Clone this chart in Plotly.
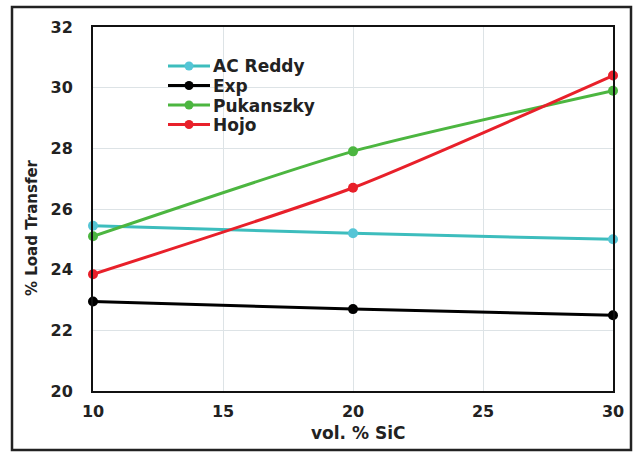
import plotly.graph_objects as go

# SiC volume fraction (vol. %)
vol_sic = [10, 20, 30]

# Load transfer (%) predicted by each model and measured
ac_reddy = [25.45, 25.2, 25.0]
exp_vals = [22.95, 22.7, 22.5]
pukanszky = [25.1, 27.9, 29.9]
hojo = [23.85, 26.7, 30.4]

series = [
    ("AC Reddy", ac_reddy, "#3dbdbd", "#55c5d6"),
    ("Exp", exp_vals, "#000000", "#000000"),
    ("Pukanszky", pukanszky, "#4cb640", "#4cb640"),
    ("Hojo", hojo, "#e8202a", "#e8202a"),
]

W, H = 635, 452
L, R, T, B = 93, 22, 27, 61
pw, ph = W - L - R, H - T - B

FONT = "DejaVu Sans, Verdana, sans-serif"
TXT = "#222222"


def px_x(p):
    """Pixel column -> paper x."""
    return (p - L) / pw


def px_y(p):
    """Pixel row -> paper y."""
    return (H - B - p) / ph


fig = go.Figure()
for name, vals, lc, mc in series:
    fig.add_trace(go.Scatter(
        x=vol_sic, y=vals, name=name, mode="lines+markers",
        line=dict(color=lc, width=3, shape="spline", smoothing=0.6),
        marker=dict(color=mc, size=10, symbol="circle"),
        cliponaxis=False, showlegend=False,
    ))

# Legend block: sample line + marker, then the series name
shapes = []
annotations = []
row0, row_gap = 66, 19.5
for i, (name, vals, lc, mc) in enumerate(series):
    yc = row0 + i * row_gap
    shapes.append(dict(
        type="line", xref="paper", yref="paper",
        x0=px_x(168), x1=px_x(210), y0=px_y(yc), y1=px_y(yc),
        line=dict(color=lc, width=3),
    ))
    r = 4.5
    shapes.append(dict(
        type="circle", xref="paper", yref="paper",
        x0=px_x(189 - r), x1=px_x(189 + r), y0=px_y(yc + r), y1=px_y(yc - r),
        line=dict(color=mc, width=0), fillcolor=mc,
    ))
    annotations.append(dict(
        text=name, xref="paper", yref="paper",
        x=px_x(211), y=px_y(yc + 0.5), xanchor="left", yanchor="middle",
        showarrow=False, font=dict(family=FONT, size=17, color=TXT, weight="bold"),
    ))

# Axis titles
annotations.append(dict(
    text="vol. % SiC", xref="paper", yref="paper",
    x=px_x(358), y=px_y(433), xanchor="center", yanchor="middle",
    showarrow=False, font=dict(family=FONT, size=17, color=TXT, weight="bold"),
))
annotations.append(dict(
    text="% Load Transfer", xref="paper", yref="paper", textangle=-90,
    x=px_x(32), y=px_y(228), xanchor="center", yanchor="middle",
    showarrow=False, font=dict(family=FONT, size=15, color=TXT, weight="bold"),
))

# Outer frame around the whole figure
shapes.append(dict(
    type="rect", xref="paper", yref="paper",
    x0=px_x(12), x1=px_x(631), y0=px_y(450), y1=px_y(7),
    line=dict(color="#222222", width=2.5), fillcolor="rgba(0,0,0,0)",
    layer="below",
))

fig.update_layout(
    width=W, height=H,
    margin=dict(l=L, r=R, t=T, b=B),
    paper_bgcolor="white", plot_bgcolor="white",
    font=dict(family=FONT, size=16, color=TXT, weight="bold"),
    showlegend=False,
    xaxis=dict(
        range=[10, 30], tickvals=[10, 15, 20, 25, 30],
        showgrid=True, gridcolor="#dde3e6", gridwidth=1,
        showline=True, linecolor="#111111", linewidth=2, mirror=True,
        ticks="", ticklabelstandoff=5,
        tickfont=dict(family=FONT, size=16, color=TXT, weight="bold"),
        zeroline=False,
    ),
    yaxis=dict(
        range=[20, 32], tickvals=[20, 22, 24, 26, 28, 30, 32],
        showgrid=True, gridcolor="#dde3e6", gridwidth=1,
        showline=True, linecolor="#111111", linewidth=2, mirror=True,
        ticks="", ticklabelstandoff=15,
        tickfont=dict(family=FONT, size=16, color=TXT, weight="bold"),
        zeroline=False,
    ),
    shapes=shapes,
    annotations=annotations,
)

fig.write_html("out.html")
